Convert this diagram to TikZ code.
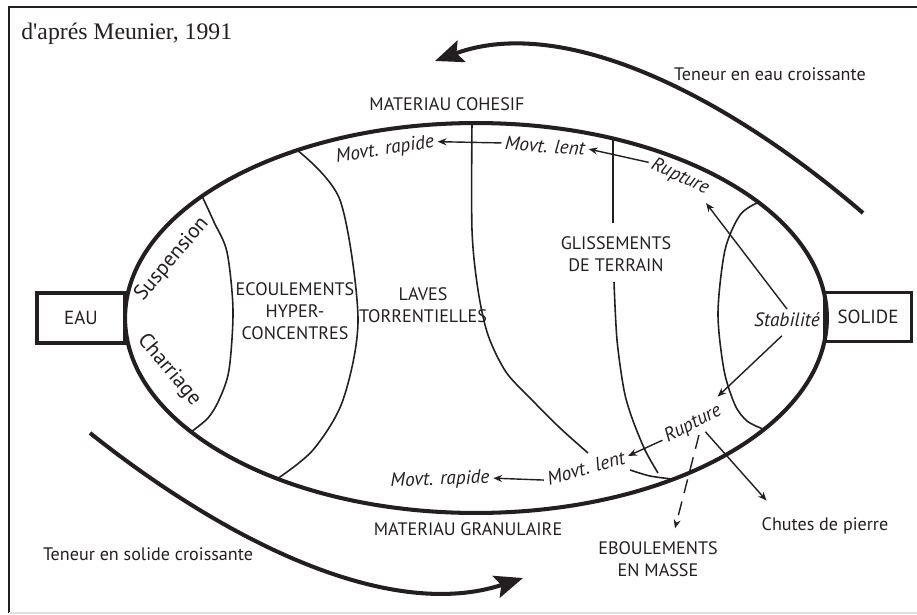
\documentclass[tikz,border=0pt]{standalone}
\usepackage{fontspec}
\setmainfont{PT Sans}
\newfontfamily\refserif{Liberation Serif}
\usetikzlibrary{arrows.meta, positioning, calc}
\definecolor{encre}{RGB}{35, 31, 32}
\tikzset{
  contour/.style={
    draw=encre,
    line width=2.3pt
  },
  zone/.style={
    draw=encre,
    line width=0.9pt
  },
  bloc/.style={
    draw=encre,
    line width=1.8pt,
    font=\fontsize{10.8}{12}\selectfont,
    text=encre
  },
  flux/.style={
    -{Stealth[length=5pt, width=4pt]},
    draw=encre,
    line width=0.8pt
  },
  tendance/.style={
    -{Stealth[length=16pt, width=13pt, inset=3pt]},
    draw=encre,
    line width=2.3pt
  },
  domaine/.style={
    font=\fontsize{10.3}{12.5}\selectfont,
    text=encre,
    align=center,
    inner sep=1pt
  },
  bord/.style={
    font=\fontsize{12}{14}\selectfont,
    text=encre,
    inner sep=0pt
  },
  mouvement/.style={
    font=\fontsize{11}{12}\selectfont\itshape,
    text=encre,
    inner sep=2pt
  }
}

\begin{document}
\begin{tikzpicture}[x=0.02cm, y=-0.02cm]
  \useasboundingbox (0,0) rectangle (917,615);
  % cadre
  \draw[line width=1.2pt, draw=encre] (917,7) -- (9,7) -- (9,613);
  \draw[line width=0.6pt, draw=black!12] (9,613) -- (917,613);
  \node[anchor=west, inner sep=0pt, font=\refserif\fontsize{13.5}{15}\selectfont, text=encre] (ref) at (21,34) {d'aprés Meunier, 1991};

  % les deux poles
  \node[bloc, minimum width=1.76cm, minimum height=1cm] (eau) at (81,318) {EAU};
  \node[bloc, minimum width=1.74cm, minimum height=0.98cm] (solide) at (868,317) {SOLIDE};

  % domaine
  \draw[contour] (476,318) ellipse [x radius=7.02cm, y radius=3.9cm];
  \draw[zone] plot[smooth] coordinates {(202,196) (214,222) (227,252) (233,310) (229,370) (219,400) (208,418) (191,432)};
  \draw[zone] plot[smooth] coordinates {(297,150) (340,200) (358,318) (343,400) (313,450) (277,479)};
  \draw[zone] plot[smooth] coordinates {(472,123) (472,230) (478,290) (488,335) (506,372) (532,400) (560,428) (588,453)};
  \draw[zone] (613,139) -- (613,223);
  \draw[zone] plot[smooth] coordinates {(614,282) (617,340) (624,390) (632,418) (645,450) (658,473)};
  \draw[zone] plot[smooth] coordinates {(630,470) (650,476) (672,479)};
  \draw[zone] plot[smooth] coordinates {(757,203) (740,215) (725,250) (718,313) (724,370) (735,405) (747,421) (763,429)};

  % tendances
  \draw[tendance] (863,213) .. controls (720,90) and (560,15) .. (435,61);
  \draw[tendance] (90,433) .. controls (232,546) and (392,621) .. (523,578);
  \node[domaine] (teneau) at (770,74) {Teneur en eau croissante};
  \node[domaine] (tensol) at (148,554) {Teneur en solide croissante};

  % materiaux
  \node[domaine] (cohesif) at (447,104) {MATERIAU COHESIF};
  \node[domaine] (granul) at (468,529) {MATERIAU GRANULAIRE};

  % types d'ecoulement
  \node[bord, rotate=50] (susp) at (172,259) {Suspension};
  \node[bord, rotate=-50] (charr) at (169,370) {Charriage};
  \node[domaine] (ecoul) at (295,311) {ECOULEMENTS\\HYPER-\\CONCENTRES};
  \node[domaine] (laves) at (423,305) {LAVES\\TORRENTIELLES};
  \node[domaine] (gliss) at (616,254) {GLISSEMENTS\\DE TERRAIN};
  \node[domaine] (ebou) at (658,559) {EBOULEMENTS\\EN MASSE};
  \node[domaine] (chutes) at (825,526) {Chutes de pierre};

  % mouvements
  \node[mouvement] (stab) at (787,320) {Stabilité};
  \node[mouvement, rotate=-25] (rup1) at (680,177) {Rupture};
  \node[mouvement, rotate=-4] (lent1) at (545,146) {Movt. lent};
  \node[mouvement, rotate=9] (rap1) at (385,150) {Movt. rapide};
  \node[mouvement, rotate=28] (rup2) at (693,424) {Rupture};
  \node[mouvement, rotate=16] (lent2) at (586,468) {Movt. lent};
  \node[mouvement, rotate=2] (rap2) at (440,480) {Movt. rapide};

  \draw[flux] (stab.north) -- (rup1.south east);
  \draw[flux] (rup1.west) -- (lent1.east);
  \draw[flux] (lent1.west) -- (rap1.east);
  \draw[flux, shorten <=4pt] (stab.south) -- (rup2.north east);
  \draw[flux] (rup2.west) -- (lent2.east);
  \draw[flux] (lent2.west) -- (rap2.east);
  \draw[flux, dash pattern=on 8pt off 5pt] (rup2.south) -- ($(ebou.north)+(17,-11)$);
  \draw[flux] (rup2.-60) -- ($(chutes.north west)+(7,-15)$);
\end{tikzpicture}
\end{document}
